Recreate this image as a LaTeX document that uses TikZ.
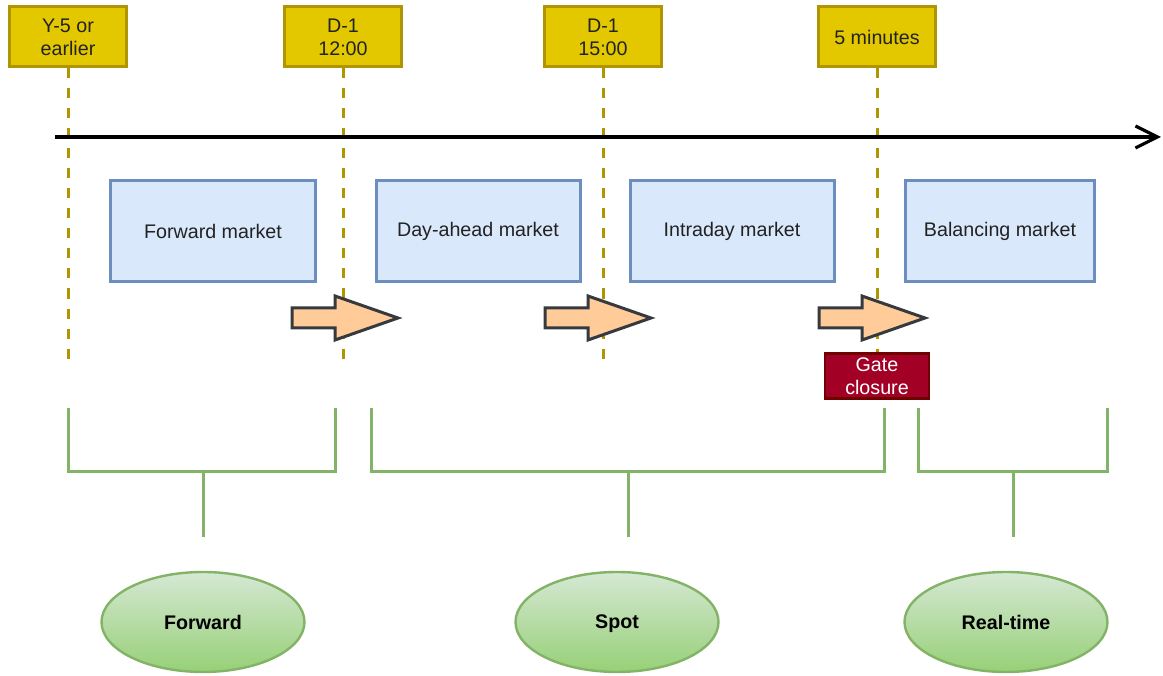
\documentclass[tikz,border=0pt]{standalone}
\usepackage{fontspec}
\setmainfont{Liberation Sans}
\usetikzlibrary{arrows.meta,shapes.geometric}

\definecolor{timefill}{HTML}{E3C800}
\definecolor{timedraw}{HTML}{B09500}
\definecolor{mktfill}{HTML}{DAE8FC}
\definecolor{mktdraw}{HTML}{6C8EBF}
\definecolor{stepfill}{HTML}{FFCC99}
\definecolor{stepdraw}{HTML}{36393D}
\definecolor{gatefill}{HTML}{A20025}
\definecolor{gatedraw}{HTML}{6F0000}
\definecolor{grouptop}{HTML}{D5E8D4}
\definecolor{groupbot}{HTML}{97D077}
\definecolor{groupdraw}{HTML}{82B366}
\definecolor{txt}{HTML}{222222}

\tikzset{
  every node/.style={font=\fontsize{14}{16.5}\selectfont, text=txt},
  timebox/.style={draw=timedraw, fill=timefill, line width=0.75mm, minimum width=29.25mm, minimum height=15mm, align=center, inner sep=0pt},
  tick/.style={draw=timedraw, line width=0.75mm, dash pattern=on 2.5mm off 2.5mm},
  mktbox/.style={draw=mktdraw, fill=mktfill, line width=0.75mm, minimum width=51mm, minimum height=25.25mm, inner sep=0pt},
  steparrow/.style={draw=stepdraw, fill=stepfill, line width=0.75mm, line join=miter},
  gatebox/.style={draw=gatedraw, fill=gatefill, line width=0.6mm, minimum width=26mm, minimum height=11.25mm, align=center, inner sep=0pt, text=white},
  bracket/.style={draw=groupdraw, line width=0.75mm},
  groupnode/.style={ellipse, draw=groupdraw, line width=0.6mm, top color=grouptop, bottom color=groupbot, minimum width=50.75mm, minimum height=25mm, text depth=0pt, font=\fontsize{14}{16.5}\selectfont\bfseries, text=black},
}

\begin{document}
\begin{tikzpicture}[x=0.25mm, y=-0.25mm]
	\useasboundingbox (0,0) rectangle (1163,676);

	% time marks
	\node[timebox] (y5) at (68,37) {Y-5 or\\earlier};
	\node[timebox] (d1noon) at (343,37) {D-1\\12:00};
	\node[timebox] (d1three) at (603,37) {D-1\\15:00};
	\node[timebox] (fivemin) at (877,37) {5 minutes};
	\node[gatebox] (gate) at (877,376) {Gate\\closure};

	\coordinate (y5end) at (68,365);
	\coordinate (d1noonend) at (343,365);
	\coordinate (d1threeend) at (603,365);
	\draw[tick] (y5.south) -- (y5end);
	\draw[tick] (d1noon.south) -- (d1noonend);
	\draw[tick] (d1three.south) -- (d1threeend);
	\draw[tick] (fivemin.south) -- (gate.north);

	\coordinate (tstart) at (55,137);
	\coordinate (tend) at (1161,137);
	\draw[line width=0.8mm, -{Straight Barb[length=5.5mm, width=5.5mm]}] (tstart) -- (tend);

	% markets
	\node[mktbox] (fwdmkt) at (213,231) {Forward market};
	\node[mktbox] (damkt) at (478,231) {Day-ahead market};
	\node[mktbox] (idmkt) at (732,231) {Intraday market};
	\node[mktbox, minimum width=47.25mm] (balmkt) at (1000,231) {Balancing market};

	\foreach \x in {292,545,819}
		\draw[steparrow] (\x,308) -- ++(43,0) -- ++(0,-12) -- ++(63,22) -- ++(-63,22) -- ++(0,-12) -- ++(-43,0) -- cycle;

	% groups
	\foreach \l/\r/\m in {68/335/203, 371/884/628, 918/1107/1013}{
		\draw[bracket] (\l,408) |- (\r,472) -- (\r,408);
		\draw[bracket] (\m,472) -- (\m,537);
	}

	\node[groupnode] (forward) at (203,622) {Forward};
	\node[groupnode] (spot) at (617,622) {Spot};
	\node[groupnode] (realtime) at (1006,622) {Real-time};

\end{tikzpicture}
\end{document}
